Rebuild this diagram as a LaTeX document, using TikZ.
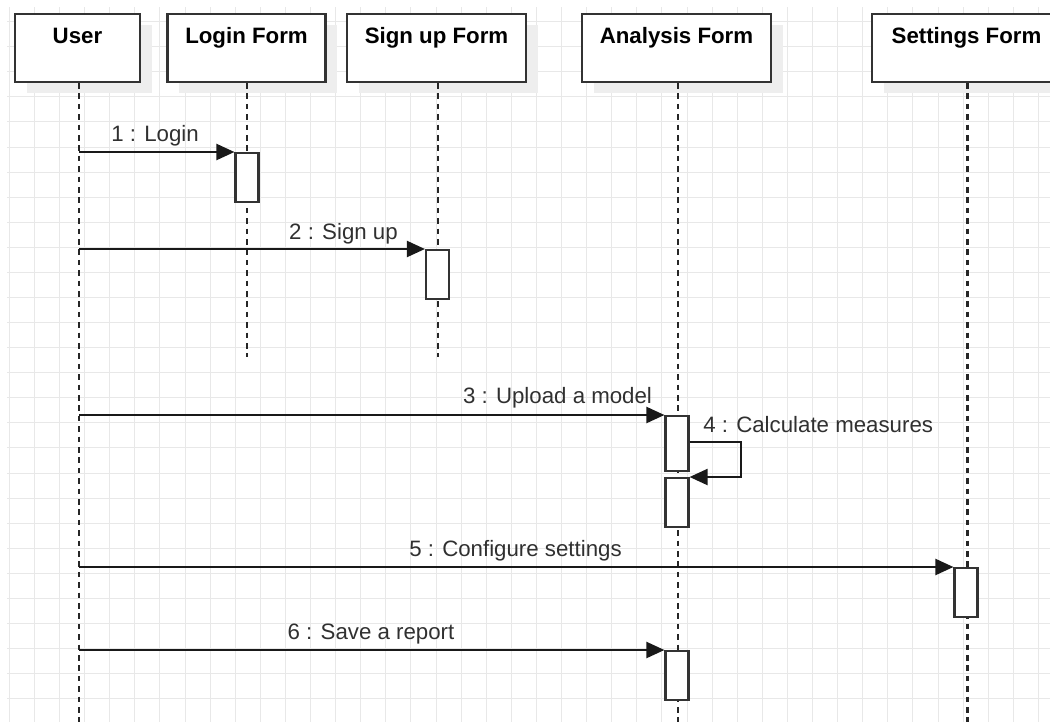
\documentclass[tikz,border=0pt]{standalone}
\usepackage{fontspec}
\setmainfont{Liberation Sans}
\usetikzlibrary{arrows.meta}
\definecolor{gridc}{HTML}{E8E8E8}
\definecolor{shadowc}{HTML}{EEEEEE}
\definecolor{linec}{HTML}{333333}
\definecolor{textc}{HTML}{303030}
\tikzset{
  hdr/.style={draw=linec, line width=1.6pt, fill=white, rectangle, inner sep=0pt,
    minimum height=51pt, text height=22pt, text depth=29pt,
    font=\fontsize{16.7pt}{20pt}\selectfont\bfseries, text=black},
  shadowbox/.style={fill=shadowc, draw=none},
  lifeline/.style={draw=black!85, line width=1.7pt, dash pattern=on 4.2pt off 3.6pt},
  actbox/.style={draw=linec, line width=1.6pt, fill=white, rectangle, inner sep=0pt,
    minimum width=17.25pt, anchor=north},
  msg/.style={draw=black!90, line width=1.6pt, -{Triangle[length=13.5pt,width=12pt]}},
  lbl/.style={font=\fontsize{16.7pt}{20pt}\selectfont, text=textc, inner sep=0pt, anchor=base}
}
\begin{document}
\begin{tikzpicture}[x=0.75pt, y=-0.75pt]
\useasboundingbox (0,0) rectangle (1050,722);
\clip (0,0) rectangle (1050,722);
% grid
\foreach \k in {0,...,41} {
  \draw[gridc, line width=0.75pt] ({9.3+25.1*\k},7) -- ({9.3+25.1*\k},722);
}
\foreach \k in {0,...,27} {
  \draw[gridc, line width=0.75pt] (7,{21.6+25.08*\k}) -- (1050,{21.6+25.08*\k});
}
% shadows
\fill[shadowbox] (27,25) rectangle (152,93);
\fill[shadowbox] (179,25) rectangle (337,93);
\fill[shadowbox] (359,25) rectangle (538,93);
\fill[shadowbox] (594,25) rectangle (783,93);
\fill[shadowbox] (884,25) rectangle (1073,93);
% headers
\node[hdr, minimum width=93.75pt] (user) at (77.5,48) {User};
\node[hdr, minimum width=118.5pt] (login) at (246.5,48) {Login Form};
\node[hdr, minimum width=134.25pt] (signup) at (436.5,48) {Sign up Form};
\node[hdr, minimum width=141.75pt] (analysis) at (676.5,48) {Analysis Form};
\node[hdr, minimum width=141.75pt] (settings) at (966.5,48) {Settings Form};
% lifeline ends
\coordinate (userEnd) at (79,722);
\coordinate (loginEnd) at (247,357);
\coordinate (signupEnd) at (438,357);
\coordinate (analysisEnd) at (678,722);
\coordinate (settingsEnd) at (967.5,722);
\draw[lifeline] (userEnd |- user.south) -- (userEnd);
\draw[lifeline] (loginEnd |- login.south) -- (loginEnd);
\draw[lifeline] (signupEnd |- signup.south) -- (signupEnd);
\draw[lifeline] (analysisEnd |- analysis.south) -- (analysisEnd);
\draw[lifeline] (settingsEnd |- settings.south) -- (settingsEnd);
% activations
\node[actbox, minimum height=36.75pt] (a1) at (247,152) {};
\node[actbox, minimum height=36.75pt] (a2) at (437.5,249) {};
\node[actbox, minimum height=41.25pt] (a3) at (677,415) {};
\node[actbox, minimum height=36.75pt] (a4) at (677,477) {};
\node[actbox, minimum height=36.4pt] (a5) at (966,567) {};
\node[actbox, minimum height=36.4pt] (a6) at (677,650) {};
% messages
\coordinate (userLL) at (79,0);
\draw[msg] (userLL |- a1.north west) -- (a1.north west);
\draw[msg] (userLL |- a2.north west) -- (a2.north west);
\draw[msg] (userLL |- a3.north west) -- (a3.north west);
\coordinate (selfA) at (741,442);
\coordinate (selfB) at (741,477);
\draw[msg] (a3.east |- selfA) -- (selfA) -- (selfB) -- (a4.north east);
\draw[msg] (userLL |- a5.north west) -- (a5.north west);
\draw[msg] (userLL |- a6.north west) -- (a6.north west);
% labels
\node[lbl] (l1) at (155,141.7) {1 : Login};
\node[lbl] (l2) at (343.5,239) {2 : Sign up};
\node[lbl] (l3) at (557.5,403) {3 : Upload a model};
\node[lbl, anchor=base west] (l4) at (703,432) {4 : Calculate measures};
\node[lbl] (l5) at (515.5,556) {5 : Configure settings};
\node[lbl] (l6) at (371,639) {6 : Save a report};
\end{tikzpicture}
\end{document}
